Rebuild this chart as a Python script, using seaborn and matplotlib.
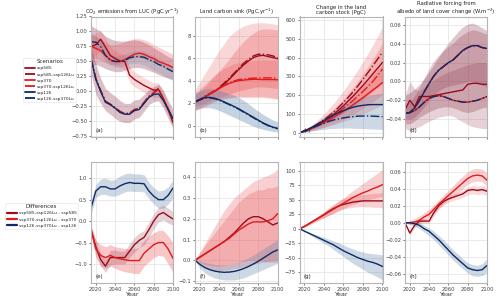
import matplotlib
matplotlib.use("Agg")
import matplotlib.pyplot as plt
from matplotlib.lines import Line2D
import seaborn as sns

# ---- data ----
years = [2015, 2020, 2025, 2030, 2035, 2040, 2045, 2050, 2055,
         2060, 2065, 2070, 2075, 2080, 2085, 2090, 2095, 2100]

scenarios = ["ssp585", "ssp585-ssp126Lu", "ssp370", "ssp370-ssp126Lu", "ssp126", "ssp126-ssp370Lu"]
differences = ["ssp585-ssp126Lu - ssp585", "ssp370-ssp126Lu - ssp370", "ssp126-ssp370Lu - ssp126"]

# (a) CO2 emissions from LUC
a_585 = [0.75, 0.78, 0.87, 0.74, 0.6, 0.55, 0.51, 0.5, 0.27, 0.2, 0.15, 0.1, 0.06, 0.02, 0.03, -0.12, -0.3, -0.52]
a_585lu = [0.55, 0.22, 0.02, -0.16, -0.21, -0.27, -0.33, -0.37, -0.36, -0.3, -0.28, -0.18, -0.08, -0.02, 0.05, -0.12, -0.3, -0.48]
a_370 = [0.75, 0.72, 0.68, 0.6, 0.53, 0.5, 0.5, 0.53, 0.58, 0.62, 0.64, 0.62, 0.58, 0.55, 0.5, 0.47, 0.44, 0.4]
a_370lu = [0.55, 0.21, 0.01, -0.17, -0.22, -0.28, -0.34, -0.38, -0.37, -0.31, -0.29, -0.19, -0.09, -0.03, 0.03, -0.13, -0.3, -0.47]
a_126 = [0.55, 0.2, 0.0, -0.18, -0.22, -0.28, -0.35, -0.38, -0.38, -0.32, -0.3, -0.2, -0.1, -0.05, -0.04, -0.15, -0.3, -0.45]
a_126lu = [0.83, 0.82, 0.75, 0.6, 0.52, 0.5, 0.5, 0.52, 0.56, 0.58, 0.58, 0.57, 0.53, 0.5, 0.45, 0.42, 0.37, 0.33]
a_up_lo = [0.45, 0.45, 0.42, 0.38, 0.35, 0.33, 0.33, 0.35, 0.38, 0.4, 0.4, 0.38, 0.35, 0.32, 0.28, 0.25, 0.22, 0.2]
a_up_hi = [1.1, 1.05, 1.0, 0.92, 0.88, 0.85, 0.84, 0.84, 0.85, 0.86, 0.85, 0.82, 0.78, 0.73, 0.68, 0.63, 0.58, 0.55]
a_up2_lo = [0.55, 0.55, 0.52, 0.48, 0.45, 0.45, 0.46, 0.5, 0.54, 0.56, 0.57, 0.55, 0.52, 0.48, 0.44, 0.4, 0.37, 0.35]
a_up2_hi = [0.95, 0.92, 0.88, 0.82, 0.78, 0.78, 0.8, 0.83, 0.86, 0.88, 0.88, 0.86, 0.83, 0.78, 0.74, 0.7, 0.66, 0.62]
a_blue_lo = [0.7, 0.7, 0.65, 0.5, 0.43, 0.41, 0.41, 0.43, 0.46, 0.47, 0.46, 0.44, 0.4, 0.36, 0.31, 0.27, 0.22, 0.18]
a_blue_hi = [0.95, 0.93, 0.86, 0.72, 0.63, 0.6, 0.6, 0.62, 0.66, 0.68, 0.68, 0.67, 0.63, 0.6, 0.55, 0.5, 0.45, 0.4]
a_low_lo = [0.3, -0.05, -0.2, -0.32, -0.38, -0.45, -0.5, -0.52, -0.52, -0.46, -0.43, -0.33, -0.22, -0.17, -0.16, -0.28, -0.45, -0.62]
a_low_hi = [0.75, 0.45, 0.22, 0.05, -0.02, -0.08, -0.15, -0.2, -0.2, -0.14, -0.13, -0.05, 0.03, 0.08, 0.12, 0.02, -0.15, -0.3]
a_mid_lo = [0.55, 0.6, 0.7, 0.6, 0.47, 0.43, 0.4, 0.38, 0.15, 0.08, 0.03, -0.02, -0.06, -0.1, -0.1, -0.22, -0.4, -0.62]
a_mid_hi = [0.95, 0.97, 1.02, 0.9, 0.74, 0.68, 0.63, 0.62, 0.4, 0.33, 0.28, 0.23, 0.18, 0.14, 0.15, 0.0, -0.2, -0.42]

# (b) land carbon sink
b_585 = [2.1, 2.3, 2.55, 2.8, 3.05, 3.35, 3.7, 4.1, 4.55, 5.0, 5.4, 5.75, 6.05, 6.2, 6.25, 6.15, 6.05, 5.95]
b_585lu = [2.1, 2.3, 2.6, 2.85, 3.1, 3.4, 3.8, 4.2, 4.65, 5.1, 5.55, 5.9, 6.2, 6.35, 6.35, 6.3, 6.2, 6.05]
b_370 = [2.1, 2.3, 2.55, 2.8, 3.05, 3.3, 3.55, 3.75, 3.9, 4.0, 4.05, 4.1, 4.12, 4.12, 4.1, 4.1, 4.1, 4.08]
b_370lu = [2.1, 2.3, 2.6, 2.85, 3.1, 3.35, 3.6, 3.82, 3.98, 4.1, 4.15, 4.2, 4.22, 4.25, 4.25, 4.25, 4.25, 4.22]
b_126 = [2.15, 2.35, 2.5, 2.52, 2.45, 2.3, 2.12, 1.92, 1.72, 1.5, 1.25, 1.0, 0.75, 0.5, 0.25, 0.05, -0.13, -0.23]
b_126lu = [2.1, 2.3, 2.45, 2.48, 2.4, 2.26, 2.08, 1.88, 1.68, 1.46, 1.21, 0.96, 0.71, 0.46, 0.22, 0.02, -0.16, -0.27]
b_out_lo = [1.3, 1.5, 1.7, 1.9, 2.1, 2.3, 2.4, 2.5, 2.55, 2.6, 2.6, 2.6, 2.6, 2.6, 2.6, 2.55, 2.5, 2.4]
b_out_hi = [3.2, 3.9, 4.6, 5.3, 6.0, 6.7, 7.3, 7.9, 8.3, 8.6, 8.85, 9.0, 9.1, 9.15, 9.15, 9.1, 9.05, 8.95]
b_585_lo = [1.7, 1.85, 2.0, 2.2, 2.35, 2.5, 2.65, 2.8, 2.95, 3.1, 3.2, 3.3, 3.4, 3.45, 3.45, 3.4, 3.35, 3.3]
b_585_hi = [2.7, 3.1, 3.5, 3.9, 4.4, 4.9, 5.4, 5.9, 6.5, 7.0, 7.5, 7.9, 8.2, 8.5, 8.6, 8.6, 8.55, 8.5]
b_370_lo = [1.4, 1.6, 1.8, 2.0, 2.15, 2.3, 2.4, 2.45, 2.5, 2.5, 2.5, 2.5, 2.5, 2.5, 2.5, 2.45, 2.4, 2.35]
b_370_hi = [2.9, 3.3, 3.7, 4.1, 4.5, 4.8, 5.1, 5.3, 5.5, 5.6, 5.7, 5.75, 5.8, 5.85, 5.85, 5.85, 5.85, 5.85]
b_126_lo = [1.4, 1.55, 1.6, 1.6, 1.5, 1.35, 1.15, 0.95, 0.75, 0.55, 0.35, 0.15, -0.05, -0.2, -0.32, -0.42, -0.5, -0.55]
b_126_hi = [2.9, 3.1, 3.25, 3.3, 3.25, 3.15, 3.0, 2.85, 2.7, 2.5, 2.25, 1.95, 1.6, 1.3, 1.0, 0.75, 0.5, 0.35]

# (c) change in the land carbon stock
c_585 = [0, 8, 18, 30, 44, 60, 78, 98, 120, 144, 170, 196, 224, 252, 282, 313, 344, 375]
c_585lu = [0, 9, 21, 35, 51, 69, 89, 111, 135, 161, 189, 219, 251, 285, 320, 356, 393, 430]
c_370 = [0, 8, 17, 28, 40, 53, 67, 82, 98, 114, 131, 149, 168, 187, 207, 227, 247, 268]
c_370lu = [0, 9, 19, 31, 44, 59, 75, 92, 110, 130, 151, 173, 196, 220, 246, 273, 305, 340]
c_126 = [0, 10, 22, 35, 50, 65, 80, 94, 107, 118, 128, 136, 142, 146, 149, 150, 150, 150]
c_126lu = [0, 9, 19, 30, 41, 51, 60, 68, 74, 79, 83, 86, 88, 89, 89, 88, 87, 85]
c_out_lo = [0, 4, 9, 15, 22, 30, 39, 49, 60, 72, 85, 99, 114, 130, 147, 165, 184, 205]
c_out_hi = [0, 14, 31, 52, 75, 100, 128, 158, 190, 224, 260, 298, 338, 380, 423, 468, 514, 565]
c_585_lo = [0, 6, 13, 22, 33, 45, 58, 72, 88, 104, 121, 139, 158, 178, 199, 220, 242, 265]
c_585_hi = [0, 12, 26, 42, 60, 80, 102, 126, 152, 180, 210, 242, 276, 312, 350, 390, 432, 478]
c_370_lo = [0, 4, 9, 15, 21, 28, 35, 43, 51, 60, 69, 79, 89, 100, 111, 123, 135, 148]
c_370_hi = [0, 11, 23, 37, 53, 70, 89, 109, 130, 152, 175, 199, 224, 250, 277, 305, 334, 364]
c_126_lo = [0, 3, 7, 11, 15, 18, 21, 23, 24, 25, 25, 24, 23, 22, 21, 20, 19, 18]
c_126_hi = [0, 14, 30, 47, 65, 83, 101, 118, 134, 148, 161, 172, 182, 190, 197, 203, 208, 212]

# (d) radiative forcing from albedo of land cover change
d_585 = [-0.03, -0.02, -0.027, -0.016, -0.016, -0.016, -0.015, -0.014, -0.013, -0.012, -0.011, -0.01, -0.009, -0.003, -0.002, -0.002, -0.003, -0.003]
d_585lu = [-0.034, -0.033, -0.028, -0.02, -0.011, -0.002, 0.006, 0.012, 0.016, 0.02, 0.023, 0.028, 0.033, 0.036, 0.038, 0.038, 0.036, 0.035]
d_370 = [-0.034, -0.033, -0.031, -0.027, -0.022, -0.018, -0.016, -0.015, -0.016, -0.018, -0.02, -0.021, -0.022, -0.022, -0.021, -0.02, -0.018, -0.016]
d_370lu = [-0.034, -0.033, -0.028, -0.02, -0.011, -0.002, 0.006, 0.012, 0.016, 0.02, 0.023, 0.028, 0.033, 0.036, 0.038, 0.038, 0.036, 0.035]
d_126 = [-0.034, -0.033, -0.028, -0.02, -0.011, -0.002, 0.006, 0.012, 0.016, 0.02, 0.023, 0.028, 0.033, 0.036, 0.038, 0.038, 0.036, 0.035]
d_126lu = [-0.034, -0.033, -0.031, -0.027, -0.022, -0.018, -0.016, -0.015, -0.016, -0.018, -0.02, -0.021, -0.022, -0.022, -0.021, -0.02, -0.018, -0.016]
d_585_lo = [-0.045, -0.045, -0.042, -0.038, -0.035, -0.032, -0.03, -0.028, -0.027, -0.027, -0.028, -0.03, -0.032, -0.033, -0.032, -0.03, -0.028, -0.027]
d_585_hi = [-0.015, -0.012, -0.008, -0.003, 0.003, 0.01, 0.018, 0.026, 0.034, 0.041, 0.047, 0.053, 0.058, 0.061, 0.062, 0.06, 0.057, 0.054]
d_370_lo = [-0.05, -0.052, -0.05, -0.048, -0.045, -0.042, -0.04, -0.038, -0.037, -0.036, -0.037, -0.04, -0.043, -0.046, -0.048, -0.049, -0.05, -0.05]
d_370_hi = [-0.015, 0.0, -0.008, -0.01, -0.006, -0.002, 0.002, 0.005, 0.008, 0.01, 0.012, 0.014, 0.016, 0.018, 0.019, 0.02, 0.02, 0.02]
d_126_lo = [-0.04, -0.04, -0.038, -0.033, -0.027, -0.02, -0.014, -0.01, -0.007, -0.005, -0.004, -0.003, -0.002, 0.0, 0.0, -0.002, -0.004, -0.006]
d_126_hi = [-0.025, -0.022, -0.015, -0.006, 0.004, 0.014, 0.022, 0.028, 0.033, 0.037, 0.041, 0.046, 0.05, 0.053, 0.055, 0.054, 0.052, 0.05]

# (e)-(h) differences
e_585 = [-0.2, -0.6, -0.9, -1.05, -0.85, -0.85, -0.85, -0.85, -0.7, -0.55, -0.45, -0.38, -0.2, 0.0, 0.15, 0.2, 0.12, 0.05]
e_370 = [-0.2, -0.65, -0.8, -0.85, -0.8, -0.85, -0.88, -0.9, -0.92, -0.92, -0.92, -0.75, -0.65, -0.55, -0.5, -0.5, -0.65, -0.87]
e_126 = [0.3, 0.7, 0.8, 0.8, 0.75, 0.75, 0.82, 0.87, 0.9, 0.88, 0.88, 0.87, 0.7, 0.58, 0.5, 0.5, 0.6, 0.77]
e_585_lo = [-0.3, -0.75, -1.05, -1.2, -1.02, -1.0, -1.0, -1.0, -0.85, -0.72, -0.62, -0.55, -0.38, -0.18, -0.02, 0.03, -0.05, -0.1]
e_585_hi = [-0.1, -0.45, -0.75, -0.9, -0.68, -0.68, -0.7, -0.7, -0.52, -0.38, -0.28, -0.22, -0.02, 0.17, 0.32, 0.37, 0.3, 0.22]
e_370_lo = [-0.3, -0.85, -1.05, -1.1, -1.05, -1.1, -1.15, -1.18, -1.2, -1.22, -1.22, -1.05, -0.95, -0.85, -0.8, -0.82, -1.0, -1.2]
e_370_hi = [-0.1, -0.45, -0.55, -0.6, -0.55, -0.6, -0.62, -0.64, -0.65, -0.64, -0.62, -0.45, -0.35, -0.27, -0.22, -0.22, -0.35, -0.5]
e_126_lo = [0.15, 0.55, 0.62, 0.62, 0.58, 0.58, 0.63, 0.68, 0.7, 0.69, 0.69, 0.68, 0.52, 0.4, 0.3, 0.3, 0.4, 0.55]
e_126_hi = [0.45, 0.85, 0.98, 1.0, 0.95, 0.97, 1.05, 1.1, 1.12, 1.1, 1.1, 1.08, 0.9, 0.78, 0.7, 0.72, 0.8, 0.95]

f_585 = [0, 0.015, 0.03, 0.045, 0.06, 0.075, 0.09, 0.11, 0.13, 0.155, 0.18, 0.2, 0.21, 0.21, 0.2, 0.185, 0.17, 0.18]
f_370 = [0, 0.015, 0.03, 0.045, 0.06, 0.075, 0.09, 0.105, 0.125, 0.145, 0.16, 0.175, 0.185, 0.185, 0.185, 0.19, 0.2, 0.225]
f_126 = [0, -0.02, -0.035, -0.045, -0.052, -0.056, -0.058, -0.057, -0.054, -0.048, -0.04, -0.03, -0.018, -0.005, 0.01, 0.025, 0.04, 0.05]
f_585_lo = [0, -0.01, -0.02, -0.025, -0.028, -0.028, -0.025, -0.02, -0.015, -0.01, -0.005, 0.0, 0.0, 0.0, -0.005, -0.01, -0.01, -0.01]
f_585_hi = [0, 0.035, 0.07, 0.1, 0.13, 0.16, 0.19, 0.22, 0.25, 0.28, 0.3, 0.32, 0.33, 0.34, 0.34, 0.35, 0.35, 0.36]
f_370_lo = [0, -0.02, -0.035, -0.045, -0.05, -0.05, -0.048, -0.045, -0.04, -0.035, -0.03, -0.025, -0.02, -0.015, -0.01, -0.005, 0.0, 0.0]
f_370_hi = [0, 0.04, 0.08, 0.12, 0.16, 0.2, 0.24, 0.27, 0.3, 0.32, 0.34, 0.36, 0.38, 0.39, 0.4, 0.41, 0.42, 0.44]
f_126_lo = [0, -0.04, -0.06, -0.075, -0.085, -0.09, -0.095, -0.095, -0.095, -0.09, -0.085, -0.075, -0.065, -0.055, -0.045, -0.035, -0.025, -0.015]
f_126_hi = [0, -0.005, -0.01, -0.015, -0.02, -0.022, -0.022, -0.02, -0.015, -0.008, 0.0, 0.012, 0.025, 0.04, 0.055, 0.07, 0.085, 0.1]

g_585 = [0, 4, 9, 14, 19, 24, 30, 35, 39, 42, 44, 46, 47, 48, 48, 48, 48, 48]
g_370 = [0, 4, 9, 14, 19, 24, 29, 34, 39, 44, 49, 54, 58, 62, 65, 69, 72, 76]
g_126 = [0, -4, -8, -12, -16, -20, -24, -28, -33, -38, -42, -46, -50, -53, -56, -58, -61, -65]
g_585_lo = [0, 3, 7, 11, 15, 19, 23, 27, 31, 34, 36, 37, 38, 38, 38, 37, 37, 36]
g_585_hi = [0, 5, 11, 17, 23, 29, 36, 42, 48, 52, 55, 57, 58, 59, 60, 61, 61, 62]
g_370_lo = [0, 3, 7, 11, 15, 19, 23, 27, 31, 35, 39, 42, 45, 48, 50, 52, 54, 56]
g_370_hi = [0, 5, 11, 17, 23, 29, 35, 41, 47, 53, 60, 66, 72, 78, 84, 90, 96, 102]
g_126_lo = [0, -5, -10, -15, -20, -25, -30, -36, -42, -48, -54, -60, -65, -70, -75, -79, -83, -88]
g_126_hi = [0, -3, -6, -9, -12, -15, -18, -21, -24, -28, -32, -35, -38, -40, -42, -43, -44, -45]

h_585 = [0, -0.012, -0.003, 0.002, 0.002, 0.002, 0.012, 0.02, 0.025, 0.028, 0.03, 0.032, 0.034, 0.038, 0.039, 0.038, 0.039, 0.037]
h_370 = [0, 0.0, 0.001, 0.003, 0.007, 0.01, 0.016, 0.022, 0.027, 0.032, 0.037, 0.042, 0.047, 0.052, 0.055, 0.056, 0.055, 0.05]
h_126 = [0, 0.0, -0.001, -0.003, -0.007, -0.01, -0.015, -0.02, -0.026, -0.032, -0.038, -0.043, -0.048, -0.053, -0.055, -0.056, -0.055, -0.05]
h_585_lo = [0, -0.015, -0.006, -0.001, -0.001, -0.001, 0.008, 0.016, 0.021, 0.024, 0.026, 0.028, 0.03, 0.033, 0.034, 0.033, 0.034, 0.032]
h_585_hi = [0, -0.01, 0.0, 0.005, 0.005, 0.005, 0.016, 0.024, 0.029, 0.032, 0.034, 0.036, 0.038, 0.042, 0.044, 0.043, 0.044, 0.042]
h_370_lo = [0, -0.002, -0.002, 0.0, 0.003, 0.006, 0.011, 0.017, 0.022, 0.027, 0.031, 0.035, 0.04, 0.045, 0.048, 0.049, 0.048, 0.043]
h_370_hi = [0, 0.003, 0.005, 0.008, 0.012, 0.016, 0.021, 0.027, 0.033, 0.038, 0.044, 0.05, 0.055, 0.06, 0.063, 0.064, 0.063, 0.058]
h_126_lo = [0, -0.002, -0.004, -0.007, -0.011, -0.015, -0.02, -0.026, -0.032, -0.038, -0.044, -0.049, -0.054, -0.059, -0.062, -0.063, -0.062, -0.058]
h_126_hi = [0, 0.002, 0.002, 0.001, -0.003, -0.006, -0.01, -0.015, -0.02, -0.026, -0.032, -0.037, -0.042, -0.047, -0.049, -0.05, -0.048, -0.042]

# ---- style ----
DARKRED = "#9b0b1c"
RED = "#e3191c"
NAVY = "#0b2b66"
ROSE = "#8c3048"
PINK = "#e8474a"
BLUE = "#5a7fa8"

sns.set_theme(style="whitegrid")
plt.rcParams.update({
    "font.family": ["DejaVu Sans"],
    "axes.edgecolor": "#b5b5b5",
    "axes.linewidth": 0.8,
    "grid.color": "#e6e6e6",
    "grid.linewidth": 0.6,
    "xtick.bottom": True,
    "ytick.left": True,
    "xtick.major.size": 1.5,
    "ytick.major.size": 1.5,
    "xtick.major.width": 0.5,
    "ytick.major.width": 0.5,
    "xtick.color": "#444444",
    "ytick.color": "#444444",
    "xtick.labelsize": 3.8,
    "ytick.labelsize": 3.8,
    "xtick.major.pad": 1.2,
    "ytick.major.pad": 1.2,
})

fig = plt.figure(figsize=(5, 3), dpi=100)

col_x = [(91, 173), (195, 277.7), (299.5, 382.5), (405, 487)]
top_y = (16.5, 137)
bot_y = (162.3, 283.3)


def make_ax(col, rowy):
    x0, x1 = col_x[col]
    y0, y1 = rowy
    return fig.add_axes([x0 / 500, 1 - y1 / 300, (x1 - x0) / 500, (y1 - y0) / 300])


def draw(ax, bands, lines, ylim, yticks, label, title=None, bottom=False):
    for lo, hi, col, alpha in bands:
        ax.fill_between(years, lo, hi, color=col, alpha=alpha, lw=0)
    for vals, col, ls in lines:
        sns.lineplot(x=years, y=vals, ax=ax, color=col, linestyle=ls, lw=1.0)
    ax.set_xlim(2015, 2100)
    ax.set_ylim(*ylim)
    ax.set_xticks([2020, 2040, 2060, 2080, 2100])
    ax.set_yticks(yticks)
    ax.set_ylabel("")
    if bottom:
        ax.set_xlabel("Year", fontsize=4.6, labelpad=0.3, color="#333333")
    else:
        ax.set_xlabel("")
        ax.set_xticklabels([])
    if title:
        ax.set_title(title, fontsize=3.8, pad=1.8, color="#222222", linespacing=1.05)
    ax.text(0.05, 0.04, label, transform=ax.transAxes, fontsize=4.0, color="#222222")
    for s in ax.spines.values():
        s.set_color("#b5b5b5")


ax_a = make_ax(0, top_y)
draw(ax_a,
     [(a_up_lo, a_up_hi, ROSE, 0.3), (a_up2_lo, a_up2_hi, PINK, 0.25), (a_blue_lo, a_blue_hi, BLUE, 0.2),
      (a_mid_lo, a_mid_hi, PINK, 0.2), (a_low_lo, a_low_hi, ROSE, 0.3)],
     [(a_585, DARKRED, "-"), (a_585lu, DARKRED, "-."), (a_370, RED, "-"),
      (a_370lu, RED, "-."), (a_126, NAVY, "-"), (a_126lu, NAVY, "-.")],
     (-0.76, 1.25), [-0.75, -0.5, -0.25, 0, 0.25, 0.5, 0.75, 1.0, 1.25], "(a)",
     "CO$_2$ emissions from LUC (PgC.yr$^{-1}$)")
ax_a.set_yticklabels(["−0.75", "−0.50", "−0.25", "0.00", "0.25", "0.50", "0.75", "1.00", "1.25"])

ax_b = make_ax(1, top_y)
draw(ax_b,
     [(b_out_lo, b_out_hi, PINK, 0.22), (b_370_lo, b_370_hi, PINK, 0.22), (b_585_lo, b_585_hi, RED, 0.2),
      (b_126_lo, b_126_hi, BLUE, 0.35)],
     [(b_585, DARKRED, "-"), (b_585lu, DARKRED, "-."), (b_370, RED, "-"),
      (b_370lu, RED, "-."), (b_126, NAVY, "-"), (b_126lu, NAVY, "-.")],
     (-1.0, 9.7), [0, 2, 4, 6, 8], "(b)", "Land carbon sink (PgC.yr$^{-1}$)")

ax_c = make_ax(2, top_y)
draw(ax_c,
     [(c_out_lo, c_out_hi, PINK, 0.22), (c_370_lo, c_370_hi, PINK, 0.22), (c_585_lo, c_585_hi, RED, 0.2),
      (c_126_lo, c_126_hi, BLUE, 0.3)],
     [(c_585, DARKRED, "-"), (c_585lu, DARKRED, "-."), (c_370, RED, "-"),
      (c_370lu, RED, "-."), (c_126, NAVY, "-"), (c_126lu, NAVY, "-.")],
     (-23, 620), [0, 100, 200, 300, 400, 500, 600], "(c)", "Change in the land\ncarbon stock (PgC)")

ax_d = make_ax(3, top_y)
draw(ax_d,
     [(d_370_lo, d_370_hi, ROSE, 0.22), (d_585_lo, d_585_hi, ROSE, 0.28), (d_126_lo, d_126_hi, ROSE, 0.25)],
     [(d_585, DARKRED, "-"), (d_585lu, DARKRED, "-."), (d_370, RED, "-"),
      (d_370lu, RED, "-."), (d_126, NAVY, "-"), (d_126lu, NAVY, "-.")],
     (-0.059, 0.069), [-0.04, -0.02, 0, 0.02, 0.04, 0.06], "(d)",
     "Radiative forcing from\nalbedo of land cover change (W.m$^{-2}$)")
ax_d.set_yticklabels(["−0.04", "−0.02", "0.00", "0.02", "0.04", "0.06"])

ax_e = make_ax(0, bot_y)
draw(ax_e,
     [(e_370_lo, e_370_hi, PINK, 0.3), (e_585_lo, e_585_hi, ROSE, 0.22), (e_126_lo, e_126_hi, BLUE, 0.3)],
     [(e_585, DARKRED, "-"), (e_370, RED, "-"), (e_126, NAVY, "-")],
     (-1.45, 1.37), [-1.0, -0.5, 0.0, 0.5, 1.0], "(e)", bottom=True)

ax_f = make_ax(1, bot_y)
draw(ax_f,
     [(f_370_lo, f_370_hi, PINK, 0.25), (f_585_lo, f_585_hi, PINK, 0.25), (f_126_lo, f_126_hi, BLUE, 0.3)],
     [(f_585, DARKRED, "-"), (f_370, RED, "-"), (f_126, NAVY, "-")],
     (-0.111, 0.472), [-0.1, 0.0, 0.1, 0.2, 0.3, 0.4], "(f)", bottom=True)

ax_g = make_ax(2, bot_y)
draw(ax_g,
     [(g_370_lo, g_370_hi, PINK, 0.25), (g_585_lo, g_585_hi, PINK, 0.25), (g_126_lo, g_126_hi, BLUE, 0.3)],
     [(g_585, DARKRED, "-"), (g_370, RED, "-"), (g_126, NAVY, "-")],
     (-94, 114.5), [-75, -50, -25, 0, 25, 50, 75, 100], "(g)", bottom=True)

ax_h = make_ax(3, bot_y)
draw(ax_h,
     [(h_370_lo, h_370_hi, PINK, 0.25), (h_585_lo, h_585_hi, PINK, 0.2), (h_126_lo, h_126_hi, BLUE, 0.3)],
     [(h_585, DARKRED, "-"), (h_370, RED, "-"), (h_126, NAVY, "-")],
     (-0.071, 0.071), [-0.06, -0.04, -0.02, 0, 0.02, 0.04, 0.06], "(h)", bottom=True)
ax_h.set_yticklabels(["−0.06", "−0.04", "−0.02", "0.00", "0.02", "0.04", "0.06"])

# ---- legends ----
scen_style = [(DARKRED, "-"), (DARKRED, "-."), (RED, "-"), (RED, "-."), (NAVY, "-"), (NAVY, "-.")]
h1 = [Line2D([], [], color=c, ls=ls, lw=1.3) for c, ls in scen_style]
leg1 = fig.legend(h1, scenarios, title="Scenarios", loc="upper right",
                  bbox_to_anchor=(76 / 500, 1 - 58 / 300), fontsize=3.2, title_fontsize=4.0,
                  handlelength=2.3, handletextpad=0.4, labelspacing=0.45, borderpad=0.3,
                  borderaxespad=0, frameon=True, edgecolor="#dddddd", fancybox=True)
leg1.get_frame().set_linewidth(0.4)

h2 = [Line2D([], [], color=c, lw=1.6) for c in [DARKRED, RED, NAVY]]
leg2 = fig.legend(h2, differences, title="Differences", loc="upper right",
                  bbox_to_anchor=(78 / 500, 1 - 203 / 300), fontsize=3.2, title_fontsize=4.0,
                  handlelength=2.3, handletextpad=0.4, labelspacing=0.45, borderpad=0.3,
                  borderaxespad=0, frameon=True, edgecolor="#dddddd", fancybox=True)
leg2.get_frame().set_linewidth(0.4)

fig.savefig("out.png", dpi=100)
